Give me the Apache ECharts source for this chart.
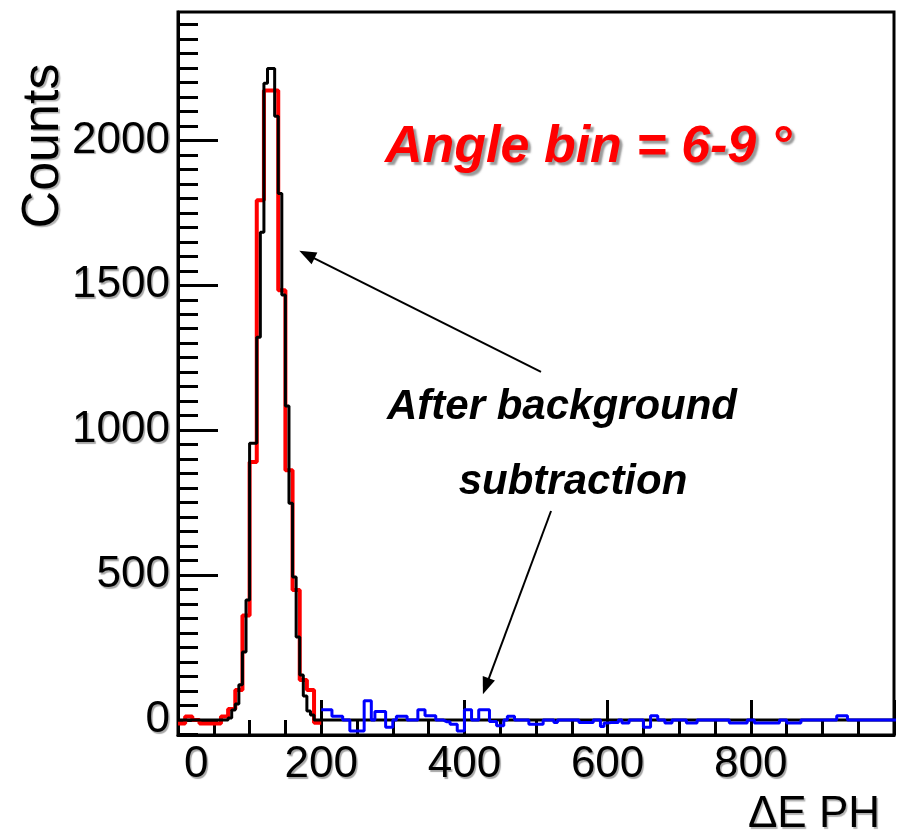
<!DOCTYPE html>
<html>
<head>
<meta charset="utf-8">
<script src="https://cdn.jsdelivr.net/npm/echarts@6/dist/echarts.min.js"></script>
<style>
  html, body { margin: 0; padding: 0; background: #fff; }
  #chart { width: 906px; height: 836px; }
</style>
</head>
<body>
<div id="chart"></div>
<script>
const FONT = '"Liberation Sans", Arial, Helvetica, sans-serif';

// ΔE pulse-height spectrum, angle bin 6-9°

// Black histogram: 5-unit bins starting at 0
const BLACK_BIN = 5;
const blackCounts = [
  0, 0, 0, 0, 0, 0, 0, 0, 0, 0, 0, 0, 0, 0,
  7, 34, 55, 121, 234, 414, 955, 955, 1321, 1683,
  2197, 2248, 2248, 2083, 1817, 1466, 1083, 748,
  493, 286, 155, 83, 31, 17, 0, 0
];
const BLACK_END = 1000;

// Red histogram: 10-unit bins from 0 to 200
const RED_BIN = 10;
const redCounts = [
  -12, 12, 0, -12, -12, -12, 12, 38, 103, 360,
  890, 1793, 2172, 2172, 1483, 862, 448, 138, 103, -10
];

// Blue histogram (after background subtraction): 5-unit bins from 200
const BLUE_BIN = 5;
const BLUE_START = 200;
const blueCounts = [
  35, 35, 35, 13, 13, 13, 0, 0, -38, -38, -38, -38, 66, 66, 0, 29, 29, 29,
  -25, -25, 0, 13, 13, 13, 0, 0, 0, 35, 35, 14, 14, 14, 0, 0, -6, -6,
  -15, -15, -38, -38, 35, 35, 0, 0, 35, 35, 35, -5, -5, -20, -20, 0,
  13, 13, 0, 0, 0, 0, -15, -15, -15, -15, 0, 0, 0, -9, 0, 0, 0, 0, 0, 0,
  -9, -9, -9, -9, 0, 0, -23, -11, -9, -9, -9, 0, -11, -11, 0, 0, 0, 0,
  -25, -25, 14, 14, 0, 0, -11, -11, 0, 0, 0, 0, -11, -11, -11,
  0, 0, 0, 0, 0, 0, 0, 0, 0, -11, -11, -11, -11, -11, 0, 0,
  -11, -11, -11, -11, -11, -11, -11, 0, 0, -11, -11, -11, -11,
  0, 0, 0, 0, 0, 0, 0, 0, 0, 0, 14, 14, 14,
  0, 0, 0, 0, 0, 0, 0, 0, 0, 0, 0, 0, 0, 0, 0, 0, 0
];

// Axis ranges and tick labels
const X_MIN = 0, X_MAX = 1000, X_STEP = 200;
const Y_MIN = -52, Y_MAX = 2443;
const xTickLabels = [0, 200, 400, 600, 800];
const yTickLabels = [0, 500, 1000, 1500, 2000];
const Y_MINOR_STEP = 50;

// Annotation arrows: [tail, head] in data coordinates
const arrowPeak = [[507, 1201], [180, 1606]];
const arrowTail = [[521, 721], [430, 116]];

// Turn bin contents into step-line points (left edge of each bin, plus closing edge)
function stepPoints(start, width, counts) {
  const pts = counts.map((c, i) => [start + i * width, c]);
  pts.push([start + counts.length * width, counts[counts.length - 1]]);
  return pts;
}

const blackData = stepPoints(0, BLACK_BIN, blackCounts);
blackData.push([BLACK_END, 0]);
const redData = stepPoints(0, RED_BIN, redCounts);
const blueData = stepPoints(BLUE_START, BLUE_BIN, blueCounts);

const yMinor = [];
for (let v = -Y_MINOR_STEP; v <= Y_MAX; v += Y_MINOR_STEP) {
  if (yTickLabels.indexOf(v) < 0) yMinor.push(v);
}

const labelShadow = {
  textShadowColor: 'rgba(0,0,0,0.35)',
  textShadowBlur: 1,
  textShadowOffsetX: 1.5,
  textShadowOffsetY: 1.5
};

const chart = echarts.init(document.getElementById('chart'), null, { renderer: 'canvas' });

chart.setOption({
  animation: false,
  backgroundColor: '#fff',
  grid: {
    left: 178, right: 12, top: 12, bottom: 101,
    show: true, borderColor: '#000', borderWidth: 3,
    backgroundColor: 'transparent'
  },
  xAxis: {
    type: 'value',
    min: X_MIN, max: X_MAX, interval: X_STEP,
    axisLine: { onZero: false, lineStyle: { color: '#000', width: 3 } },
    axisTick: { inside: true, length: 35, lineStyle: { color: '#000', width: 3 } },
    minorTick: { show: true, splitNumber: 4, length: 15, lineStyle: { color: '#000', width: 3 } },
    splitLine: { show: false },
    minorSplitLine: { show: false },
    axisLabel: {
      margin: 8,
      showMaxLabel: false,
      alignMinLabel: 'left',
      fontFamily: FONT, fontSize: 44, color: '#000',
      ...labelShadow,
      formatter: v => xTickLabels.indexOf(v) >= 0 ? (v === 0 ? '{z|0}' : String(v)) : '',
      rich: { z: { fontFamily: FONT, fontSize: 44, color: '#000', padding: [0, 0, 0, 6], ...labelShadow } }
    }
  },
  yAxis: [
    {
      type: 'value',
      min: Y_MIN, max: Y_MAX,
      axisLine: { show: true, lineStyle: { color: '#000', width: 3 } },
      axisTick: { inside: true, length: 40, customValues: yTickLabels, lineStyle: { color: '#000', width: 3 } },
      axisLabel: {
        customValues: yTickLabels,
        margin: 8,
        fontFamily: FONT, fontSize: 44, color: '#000',
        ...labelShadow,
        formatter: v => String(v)
      },
      splitLine: { show: false }
    },
    {
      type: 'value',
      min: Y_MIN, max: Y_MAX,
      position: 'left',
      axisLine: { show: false },
      axisTick: { inside: true, length: 20, customValues: yMinor, lineStyle: { color: '#000', width: 3 } },
      axisLabel: { show: false },
      splitLine: { show: false }
    }
  ],
  series: [
    {
      name: 'red', type: 'line', step: 'end', data: redData, yAxisIndex: 0,
      symbol: 'none', z: 2,
      lineStyle: { color: '#ff0000', width: 4 }
    },
    {
      name: 'black', type: 'line', step: 'end', data: blackData, yAxisIndex: 0,
      symbol: 'none', z: 3,
      lineStyle: { color: '#000', width: 3 },
      markLine: {
        silent: true,
        animation: false,
        symbol: ['none', 'triangle'],
        symbolSize: [13, 17],
        label: { show: false },
        lineStyle: { color: '#000', width: 2, type: 'solid' },
        data: [
          [{ coord: arrowPeak[0] }, { coord: arrowPeak[1] }],
          [{ coord: arrowTail[0] }, { coord: arrowTail[1] }]
        ]
      }
    },
    {
      name: 'blue', type: 'line', step: 'end', data: blueData, yAxisIndex: 0,
      symbol: 'none', z: 4, clip: false,
      lineStyle: { color: '#0000ff', width: 3 }
    }
  ],
  graphic: [
    {
      type: 'text', x: 44, y: 146, rotation: Math.PI / 2,
      style: {
        text: 'Counts', font: '52px ' + FONT, fill: '#000',
        align: 'center', verticalAlign: 'middle',
        textShadowColor: 'rgba(0,0,0,0.3)', textShadowBlur: 1, textShadowOffsetX: 1.5, textShadowOffsetY: 1.5
      }
    },
    {
      type: 'text', x: 880, y: 815,
      style: {
        text: 'ΔE PH', font: '44px ' + FONT, fill: '#000',
        align: 'right', verticalAlign: 'middle',
        textShadowColor: 'rgba(0,0,0,0.3)', textShadowBlur: 1, textShadowOffsetX: 1.5, textShadowOffsetY: 1.5
      }
    },
    {
      type: 'text', x: 385, y: 148,
      style: {
        text: 'Angle bin = 6-9 °', font: 'italic bold 52px ' + FONT, fill: '#ff0000',
        align: 'left', verticalAlign: 'middle',
        textShadowColor: 'rgba(110,110,110,0.7)', textShadowBlur: 2, textShadowOffsetX: 3, textShadowOffsetY: 3
      }
    },
    {
      type: 'text', x: 562, y: 407,
      style: {
        text: 'After background', font: 'italic bold 42px ' + FONT, fill: '#000',
        align: 'center', verticalAlign: 'middle'
      }
    },
    {
      type: 'text', x: 573, y: 482,
      style: {
        text: 'subtraction', font: 'italic bold 42px ' + FONT, fill: '#000',
        align: 'center', verticalAlign: 'middle'
      }
    }
  ]
});
</script>
</body>
</html>
